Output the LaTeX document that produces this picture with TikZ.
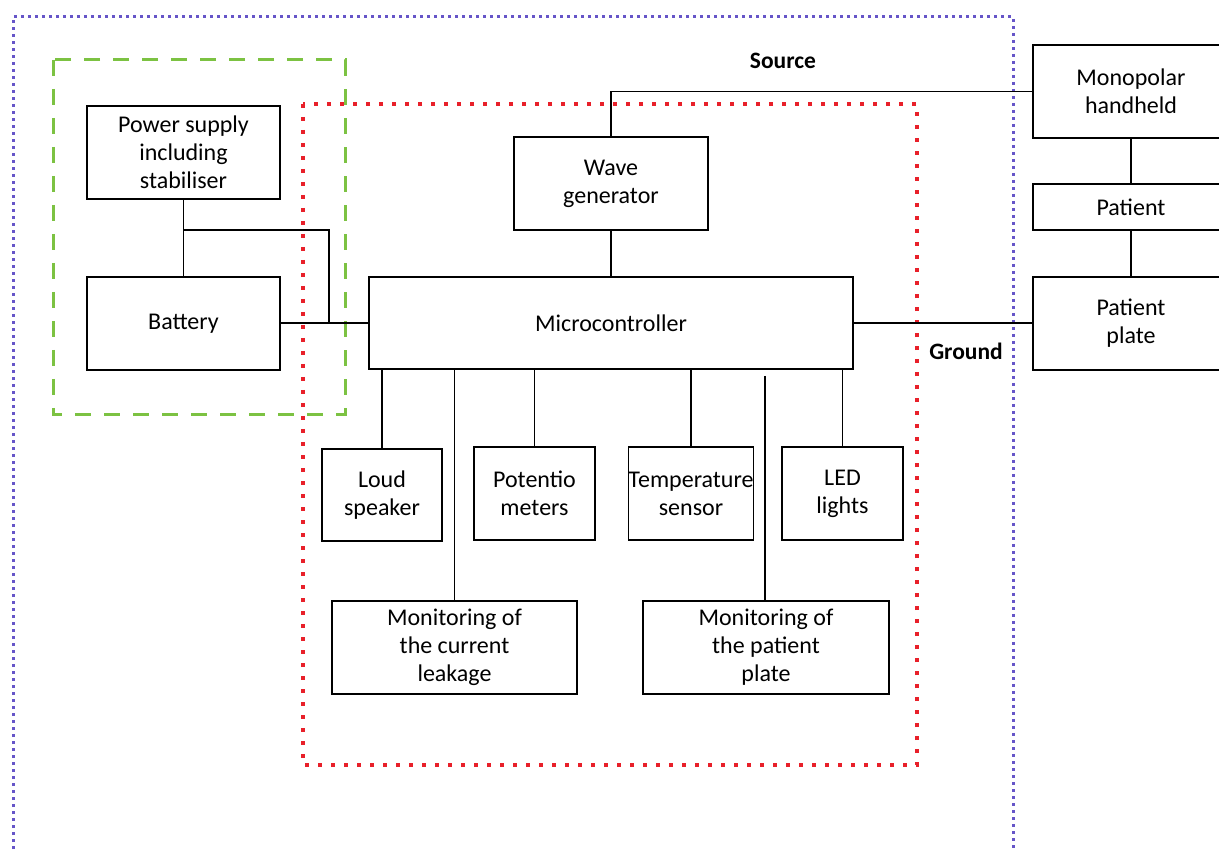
\documentclass[tikz,border=0pt]{standalone}
\usepackage{fontspec}
\setmainfont{Carlito}
\definecolor{pdot}{HTML}{6655C8}
\definecolor{rdot}{HTML}{E8202A}
\definecolor{gdash}{HTML}{7CC242}
\begin{document}
\begin{tikzpicture}[x=1pt,y=-1pt,
  box/.style={draw, line width=1.6pt, fill=white, align=center, inner sep=0pt, font=\fontsize{24}{28}\selectfont},
  wire/.style={line width=1.6pt},
  lbl/.style={font=\fontsize{23.5}{28}\selectfont\bfseries, inner sep=0pt},
  pframe/.style={draw=pdot, line width=3pt, dash pattern=on 3pt off 4pt},
  rframe/.style={draw=rdot, line width=3.5pt, dash pattern=on 4pt off 9pt},
  gframe/.style={draw=gdash, line width=3pt, dash pattern=on 16pt off 13pt}]
\useasboundingbox (0,0) rectangle (1219,850);
\clip (0,0) rectangle (1219,850);
\fill[white] (0,0) rectangle (1219,850);
% frames
\draw[pframe] (13,870) -- (13,17) -- (1013,17) -- (1013,870);
\draw[gframe] (53,60) rectangle (345,415);
\draw[rframe] (303,104) rectangle (917,765);
% nodes
\node[box, minimum width=193pt, minimum height=93pt] (ps) at (183.5,152.5) {Power supply\\including\\stabiliser};
\node[box, minimum width=193pt, minimum height=93pt] (bat) at (183.5,323.5) {Battery};
\node[box, minimum width=194pt, minimum height=93pt] (wave) at (611,183.5) {Wave\\generator};
\node[box, minimum width=484pt, minimum height=92pt] (mc) at (611,323) {Microcontroller};
\node[box, minimum width=196pt, minimum height=93pt] (mono) at (1131,91.5) {Monopolar\\handheld};
\node[box, minimum width=196pt, minimum height=46pt] (pat) at (1131,207) {Patient};
\node[box, minimum width=196pt, minimum height=93pt] (plate) at (1131,323.5) {Patient\\plate};
\node[box, minimum width=120pt, minimum height=92pt] (loud) at (382,495) {Loud\\speaker};
\node[box, minimum width=121pt, minimum height=93pt] (pot) at (534.5,493.5) {Potentio\\meters};
\node[box, minimum width=122pt, minimum height=93pt] (temp) at (691,493.5) {Temperature\\sensor};
\node[box, minimum width=121pt, minimum height=93pt] (led) at (842.5,493.5) {LED\\lights};
\node[box, minimum width=245pt, minimum height=93pt] (mcl) at (454.5,647.5) {Monitoring of\\the current\\leakage};
\node[box, minimum width=246pt, minimum height=93pt] (mpp) at (766,647.5) {Monitoring of\\the patient\\plate};
\node[lbl] (src) at (783,61) {Source};
\node[lbl] (gnd) at (966,351) {Ground};
% connectors
\coordinate (j1) at (183.5,230);
\coordinate (j2) at (329,230);
\coordinate (j3) at (329,323);
\coordinate (g) at (765,376);
\draw[wire] (ps.south) -- (bat.north);
\draw[wire] (j1) -- (j2) -- (j3);
\draw[wire] (bat.east |- mc.west) -- (mc.west);
\draw[wire] (wave.south) -- (mc.north);
\draw[wire] (wave.north) |- (mono.west);
\draw[wire] (mc.east) -- (mc.east -| plate.west);
\draw[wire] (mono.south) -- (pat.north);
\draw[wire] (pat.south) -- (plate.north);
\draw[wire] (loud.north) -- (loud.north |- mc.south);
\draw[wire] (pot.north) -- (pot.north |- mc.south);
\draw[wire] (temp.north) -- (temp.north |- mc.south);
\draw[wire] (led.north) -- (led.north |- mc.south);
\draw[wire] (mcl.north) -- (mcl.north |- mc.south);
\draw[wire] (g) -- (g |- mpp.north);
\end{tikzpicture}
\end{document}
